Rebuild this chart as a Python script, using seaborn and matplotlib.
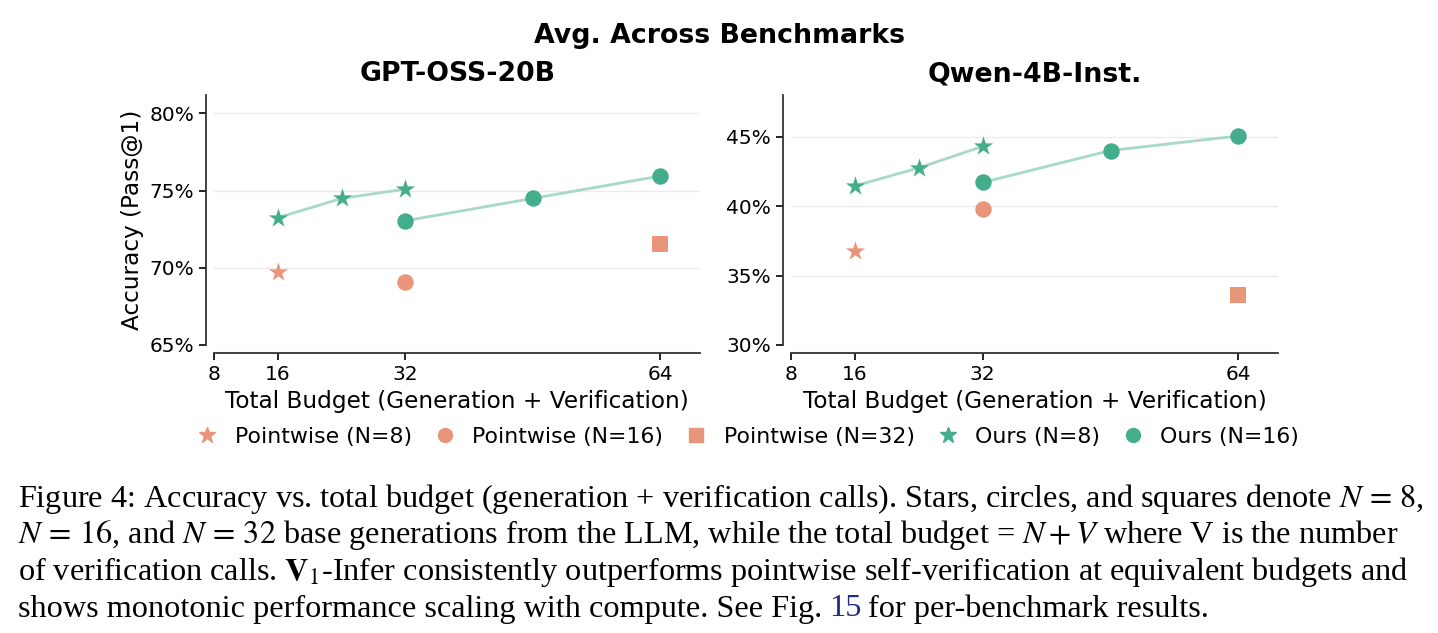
"""
Accuracy vs. total budget (generation + verification), averaged across benchmarks.
"""

import pandas as pd
import matplotlib.pyplot as plt
import seaborn as sns
from matplotlib.lines import Line2D
from matplotlib.ticker import FuncFormatter

# budgets (x axis)
OURS_N8_BUDGET = [16, 24, 32]
OURS_N16_BUDGET = [32, 48, 64]
POINTWISE_BUDGET = [16, 32, 64]  # N=8, N=16, N=32

# GPT-OSS-20B accuracy (%)
GPT_OURS_N8 = [73.25, 74.5, 75.1]
GPT_OURS_N16 = [73.05, 74.5, 75.95]
GPT_POINTWISE = [69.7, 69.1, 71.55]

# Qwen-4B-Inst. accuracy (%)
QWEN_OURS_N8 = [41.45, 42.75, 44.3]
QWEN_OURS_N16 = [41.7, 44.0, 45.05]
QWEN_POINTWISE = [36.8, 39.8, 33.6]

PANELS = ["GPT-OSS-20B", "Qwen-4B-Inst."]
Y_TICKS = {"GPT-OSS-20B": [65, 70, 75, 80], "Qwen-4B-Inst.": [30, 35, 40, 45]}
Y_LIMS = {"GPT-OSS-20B": (65, 81.2), "Qwen-4B-Inst.": (30, 48)}
X_TICKS = [8, 16, 32, 64]

POINTWISE_MARKERS = ["*", "o", "s"]
POINTWISE_LABELS = ["Pointwise (N=8)", "Pointwise (N=16)", "Pointwise (N=32)"]

GREEN = "#44ad8b"
ORANGE = "#e9957a"
LINE_GREEN = "#a6dac6"

CAPTION = [
    "Figure 4: Accuracy vs. total budget (generation + verification calls). Stars, circles, and squares denote $N\\,=\\,8$,",
    "$N\\,=\\,16$, and $N\\,=\\,32$ base generations from the LLM, while the total budget = $N+V$ where V is the number",
    "of verification calls. $\\mathbf{V}_1$-Infer consistently outperforms pointwise self-verification at equivalent budgets and",
]
CAPTION_LAST = ["shows monotonic performance scaling with compute. See Fig.", "15", "for per-benchmark results."]


def build_frames():
    data = {
        "GPT-OSS-20B": (GPT_OURS_N8, GPT_OURS_N16, GPT_POINTWISE),
        "Qwen-4B-Inst.": (QWEN_OURS_N8, QWEN_OURS_N16, QWEN_POINTWISE),
    }
    frames = {}
    for name, (o8, o16, pw) in data.items():
        ours8 = pd.DataFrame({"Budget": OURS_N8_BUDGET, "Acc": o8})
        ours16 = pd.DataFrame({"Budget": OURS_N16_BUDGET, "Acc": o16})
        point = pd.DataFrame({"Budget": POINTWISE_BUDGET, "Acc": pw, "Label": POINTWISE_LABELS})
        frames[name] = (ours8, ours16, point)
    return frames


def plot(frames):
    sns.set_style("ticks")
    plt.rcParams["font.family"] = ["DejaVu Sans"]
    plt.rcParams["mathtext.fontset"] = "stix"
    plt.rcParams["text.color"] = "black"
    plt.rcParams["axes.labelcolor"] = "black"
    plt.rcParams["xtick.color"] = "black"
    plt.rcParams["ytick.color"] = "black"

    fig = plt.figure(figsize=(14.38, 6.33), dpi=100)
    axes = [
        fig.add_axes([0.149, 0.455, 0.338, 0.395]),
        fig.add_axes([0.550, 0.455, 0.339, 0.395]),
    ]

    for ax, name in zip(axes, PANELS):
        ours8, ours16, point = frames[name]

        for df in (ours8, ours16):
            sns.lineplot(data=df, x="Budget", y="Acc", ax=ax, color=LINE_GREEN,
                         linewidth=2, zorder=2)
        sns.scatterplot(data=ours8, x="Budget", y="Acc", ax=ax, marker="*",
                        color=GREEN, s=210, linewidth=0, zorder=3)
        sns.scatterplot(data=ours16, x="Budget", y="Acc", ax=ax, marker="o",
                        color=GREEN, s=140, linewidth=0, zorder=3)
        for (_, row), m in zip(point.iterrows(), POINTWISE_MARKERS):
            size = {"*": 210, "o": 140, "s": 130}[m]
            ax.scatter(row["Budget"], row["Acc"], marker=m, color=ORANGE,
                       s=size, linewidth=0, zorder=3)

        ax.set_xlim(8, 69)
        ax.set_ylim(*Y_LIMS[name])
        ax.set_xticks(X_TICKS)
        ax.set_yticks(Y_TICKS[name])
        ax.yaxis.set_major_formatter(FuncFormatter(lambda v, _: f"{v:.0f}%"))
        ax.yaxis.grid(True, color="#ebebeb", linewidth=1)
        ax.tick_params(labelsize=14.5, length=5, width=1.2)
        ax.set_title(name, fontsize=19.3, fontweight="bold", pad=10)
        ax.set_xlabel("Total Budget (Generation + Verification)", fontsize=16.7)
        ax.set_ylabel("")
        for sp in ("left", "bottom"):
            ax.spines[sp].set_linewidth(1.3)
            ax.spines[sp].set_color("#333333")
        sns.despine(ax=ax, offset=6)

    axes[0].set_ylabel("Accuracy (Pass@1)", fontsize=16.7)
    fig.text(0.5, 0.943, "Avg. Across Benchmarks", ha="center", va="center",
             fontsize=19.3, fontweight="bold")

    handles = [
        Line2D([], [], linestyle="", marker="*", color=ORANGE, markersize=12),
        Line2D([], [], linestyle="", marker="o", color=ORANGE, markersize=10),
        Line2D([], [], linestyle="", marker="s", color=ORANGE, markersize=10),
        Line2D([], [], linestyle="", marker="*", color=GREEN, markersize=12),
        Line2D([], [], linestyle="", marker="o", color=GREEN, markersize=10),
    ]
    labels = POINTWISE_LABELS + ["Ours (N=8)", "Ours (N=16)"]
    fig.legend(handles, labels, loc="center", bbox_to_anchor=(0.52, 0.31), ncol=5,
               frameon=False, fontsize=15.8, handlelength=1.0, handletextpad=0.75,
               columnspacing=1.0)

    # caption under the figure
    cap_kw = dict(family="Liberation Serif", fontsize=23.2, va="baseline", ha="left")
    y0, step = 1 - 507 / 633, 36.5 / 633
    for i, line in enumerate(CAPTION):
        fig.text(0.0125, y0 - i * step, line, **cap_kw)
    y3 = y0 - 3 * step
    t1 = fig.text(0.0125, y3, CAPTION_LAST[0], **cap_kw)
    t2 = axes[1].annotate(CAPTION_LAST[1], xy=(1, y3), xycoords=(t1, fig.transFigure),
                          xytext=(5, 0), textcoords="offset points", color="#1f2a80",
                          annotation_clip=False, **cap_kw)
    axes[1].annotate(CAPTION_LAST[2], xy=(1, y3), xycoords=(t2, fig.transFigure),
                     xytext=(5, 0), textcoords="offset points",
                     annotation_clip=False, **cap_kw)

    fig.savefig("out.png", dpi=100)


if __name__ == "__main__":
    plot(build_frames())
